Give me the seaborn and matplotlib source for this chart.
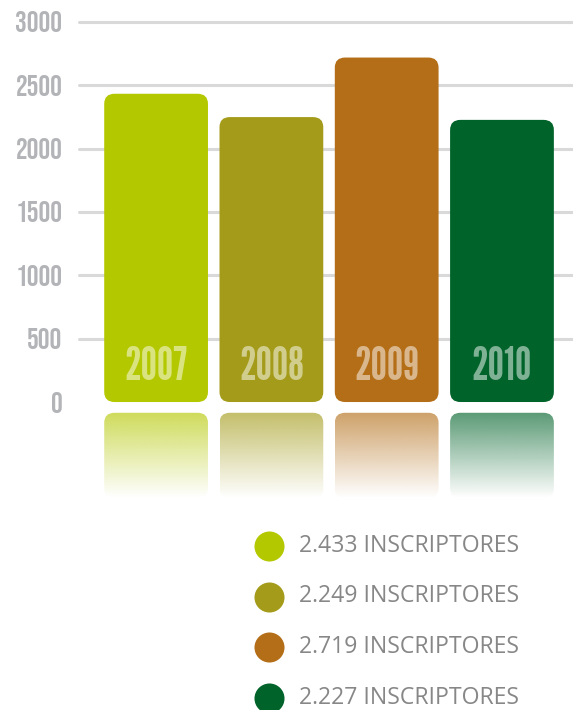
import numpy as np
import pandas as pd
import matplotlib
matplotlib.use("Agg")
import matplotlib.pyplot as plt
from matplotlib.patches import FancyBboxPatch
import seaborn as sns

years = ["2007", "2008", "2009", "2010"]
inscriptores = [2433, 2249, 2719, 2227]
legend_labels = ["2.433 INSCRIPTORES", "2.249 INSCRIPTORES",
                 "2.719 INSCRIPTORES", "2.227 INSCRIPTORES"]
bar_colors = ["#b4c800", "#a39b19", "#b36e17", "#00632a"]
y_ticks = [0, 500, 1000, 1500, 2000, 2500, 3000]

sns.set_style("white")
tick_font = ["Bebas Neue", "Oswald", "Antonio", "DejaVu Sans"]
year_font = ["League Gothic", "Antonio", "Oswald", "DejaVu Sans"]

df = pd.DataFrame({"year": years, "n": inscriptores})

fig = plt.figure(figsize=(5.73, 7.10), dpi=100)
ax = fig.add_axes([0.138, 0.2821, 0.862, 0.687])

sns.barplot(data=df, x="year", y="n", hue="year", palette=bar_colors,
            saturation=1, width=0.9, legend=False, ax=ax, zorder=3)

ax.set_xlim(-0.668, 3.616)
ax.set_ylim(-850, 3000)

# grid lines 500..3000
for t in y_ticks[1:]:
    ax.axhline(t, color="#d9d9d9", lw=2.2, zorder=1, clip_on=False)

# rounded bars + reflections
grad = np.linspace(0.65, 0.0, 256).reshape(-1, 1)
for i, p in enumerate(list(ax.patches)):
    x0, w, h = p.get_x(), p.get_width(), p.get_height()
    col = p.get_facecolor()
    p.remove()
    box = FancyBboxPatch((x0, 0), w, h, boxstyle="round,pad=0,rounding_size=0.09",
                         mutation_aspect=880, fc=col, ec="none", zorder=3)
    ax.add_patch(box)
    ax.text(x0 + w / 2, 100, years[i], ha="center", va="bottom", color="white",
            alpha=0.5, fontsize=33, family=year_font, zorder=4)

    rgba = np.zeros((256, 1, 4))
    rgba[..., :3] = col[:3]
    rgba[..., 3] = grad
    im = ax.imshow(rgba, extent=(x0, x0 + w, -760, -85), aspect="auto",
                   interpolation="bilinear", zorder=2)
    clip = FancyBboxPatch((x0, -760), w, 675, boxstyle="round,pad=0,rounding_size=0.09",
                          mutation_aspect=880, fc="none", ec="none",
                          transform=ax.transData)
    im.set_clip_path(clip)

ax.set_xlim(-0.668, 3.616)
ax.set_ylim(-850, 3000)
ax.set_yticks(y_ticks)
ax.set_yticklabels([str(t) for t in y_ticks], color="#b3b4b7", fontsize=21,
                   family=tick_font)
ax.tick_params(axis="y", length=0, pad=12)
ax.set_xticks([])
ax.set_xlabel("")
ax.set_ylabel("")
sns.despine(ax=ax, left=True, bottom=True)

# legend
lax = fig.add_axes([0, 0, 1, 1], facecolor="none")
lax.set_xlim(0, 573)
lax.set_ylim(710, 0)
lax.axis("off")
for i, lab in enumerate(legend_labels):
    yy = 546 + i * 50.5
    lax.scatter([269], [yy], s=30 ** 2 * 0.52, color=bar_colors[i], lw=0)
    lax.text(299, yy, lab, va="center", ha="left", fontsize=16.6,
             color="#878787", family=["Open Sans", "DejaVu Sans"])

fig.savefig("out.png", dpi=100)
